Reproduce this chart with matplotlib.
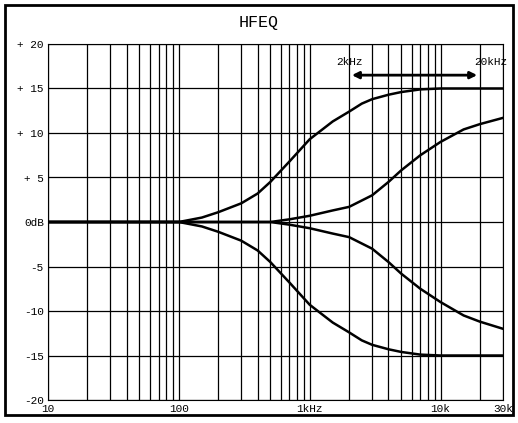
import matplotlib.pyplot as plt
from matplotlib.patches import Rectangle
from matplotlib.ticker import FixedLocator, NullFormatter

# boost / cut curves
freq_a = [10, 100, 150, 200, 300, 400, 500, 700, 1000, 1500, 2000, 2500, 3000, 4000, 5000, 7000, 10000, 30000]
boost_a = [0, 0, 0.5, 1.1, 2.1, 3.2, 4.5, 6.8, 9.3, 11.3, 12.4, 13.3, 13.8, 14.3, 14.6, 14.9, 15, 15]
cut_a = [0, 0, -0.5, -1.1, -2.1, -3.2, -4.5, -6.8, -9.3, -11.3, -12.4, -13.3, -13.8, -14.3, -14.6, -14.9, -15, -15]

freq_b = [10, 500, 700, 1000, 1500, 2000, 3000, 4000, 5000, 7000, 10000, 15000, 20000, 30000]
boost_b = [0, 0, 0.3, 0.7, 1.3, 1.7, 3.0, 4.5, 5.8, 7.5, 9.0, 10.4, 11.0, 11.7]
cut_b = [0, 0, -0.3, -0.7, -1.3, -1.7, -3.0, -4.5, -5.8, -7.5, -9.0, -10.5, -11.2, -12.0]

y_ticks = [20, 15, 10, 5, 0, -5, -10, -15, -20]
y_labels = ['+ 20', '+ 15', '+ 10', '+ 5', '0dB', '-5', '-10', '-15', '-20']
x_ticks = [10, 100, 1000, 10000, 30000]
x_labels = ['10', '100', '1kHz', '10k', '30k']

plt.rcParams['font.family'] = ['Liberation Mono', 'DejaVu Sans Mono']

fig = plt.figure(figsize=(5.18, 4.23), dpi=100)
ax = fig.add_axes([48 / 518, 1 - 400 / 423, 455 / 518, 356 / 423])

ax.set_xscale('log')
ax.set_xlim(10, 30000)
ax.set_ylim(-20, 20)

grid_x = [m * 10 ** e for e in range(1, 5) for m in range(1, 10) if m * 10 ** e <= 30000]
for gx in grid_x:
    ax.axvline(gx, color='black', lw=0.9, zorder=1)
for gy in y_ticks:
    ax.axhline(gy, color='black', lw=0.9, zorder=1)

for f, v in [(freq_a, boost_a), (freq_a, cut_a), (freq_b, boost_b), (freq_b, cut_b)]:
    ax.plot(f, v, color='black', lw=1.8, zorder=3)

ax.xaxis.set_major_locator(FixedLocator(x_ticks))
ax.xaxis.set_minor_formatter(NullFormatter())
ax.xaxis.set_minor_locator(FixedLocator([]))
ax.set_xticklabels(x_labels)
ax.set_yticks(y_ticks)
ax.set_yticklabels(y_labels)
ax.tick_params(length=0, labelsize=8, pad=3)

ax.annotate('', xy=(2000, 16.5), xytext=(20000, 16.5),
            arrowprops=dict(arrowstyle='<|-|>', color='black', lw=2, mutation_scale=10), zorder=4)
ax.text(2000, 18.0, '2kHz', ha='center', va='center', fontsize=8)
ax.text(24000, 18.0, '20kHz', ha='center', va='center', fontsize=8)

fig.text(0.5, 1 - 23 / 423, 'HFEQ', ha='center', va='center', fontsize=12)
fig.patches.append(Rectangle((5 / 518, 1 - 415 / 423), 508 / 518, 410 / 423,
                             transform=fig.transFigure, fill=False, lw=2, color='black'))

fig.savefig('out.png', dpi=100)
